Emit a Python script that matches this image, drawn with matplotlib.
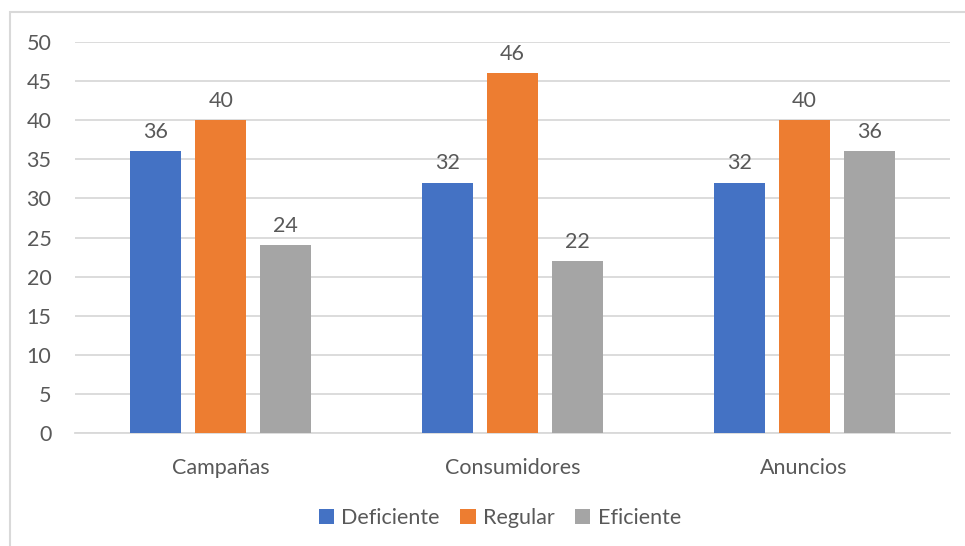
import numpy as np
import matplotlib.pyplot as plt
from matplotlib.patches import Rectangle

categories = ["Campañas", "Consumidores", "Anuncios"]
series = ["Deficiente", "Regular", "Eficiente"]
deficiente = [36, 32, 32]
regular = [40, 46, 40]
eficiente = [24, 22, 36]
colors = ["#4472C4", "#ED7D31", "#A5A5A5"]

plt.rcParams["font.family"] = ["Lato", "DejaVu Sans"]
text_color = "#595959"
grid_color = "#D9D9D9"
fs = 15.5

fig = plt.figure(figsize=(9.65, 5.46), dpi=100)
fig.patches.append(Rectangle((10 / 965, -0.1), 1.2, 1 - 12 / 546 + 0.1,
                             transform=fig.transFigure, fill=False,
                             edgecolor=grid_color, linewidth=1.5))
ax = fig.add_axes([75 / 965, 1 - 433 / 546, 875 / 965, 391 / 546])

x = np.arange(len(categories))
width = 0.175
step = 0.223
for i, (name, vals) in enumerate(zip(series, [deficiente, regular, eficiente])):
    bars = ax.bar(x + (i - 1) * step, vals, width, color=colors[i], label=name, zorder=3)
    for b, v in zip(bars, vals):
        ax.text(b.get_x() + b.get_width() / 2, v + 1.2, str(v), ha="center", va="bottom",
                fontsize=fs, color=text_color)

ax.set_xlim(-0.5, 2.5)
ax.set_ylim(0, 50)
ax.set_yticks(range(0, 51, 5))
ax.yaxis.grid(True, color=grid_color, linewidth=1.3, zorder=0)
ax.set_axisbelow(True)
for s in ["top", "right", "left"]:
    ax.spines[s].set_visible(False)
ax.spines["bottom"].set_color(grid_color)
ax.spines["bottom"].set_linewidth(1.3)
ax.set_xticks(x)
ax.set_xticklabels(categories)
ax.tick_params(axis="both", length=0, labelsize=fs, labelcolor=text_color)
ax.tick_params(axis="x", pad=18)
ax.tick_params(axis="y", pad=17)

fig.legend(loc="center", bbox_to_anchor=(500 / 965, 1 - 518 / 546), ncol=3, frameon=False,
           fontsize=fs, labelcolor=text_color, handlelength=0.7, handleheight=0.7,
           handletextpad=0.35, columnspacing=0.95)

fig.savefig("out.png", dpi=100)
